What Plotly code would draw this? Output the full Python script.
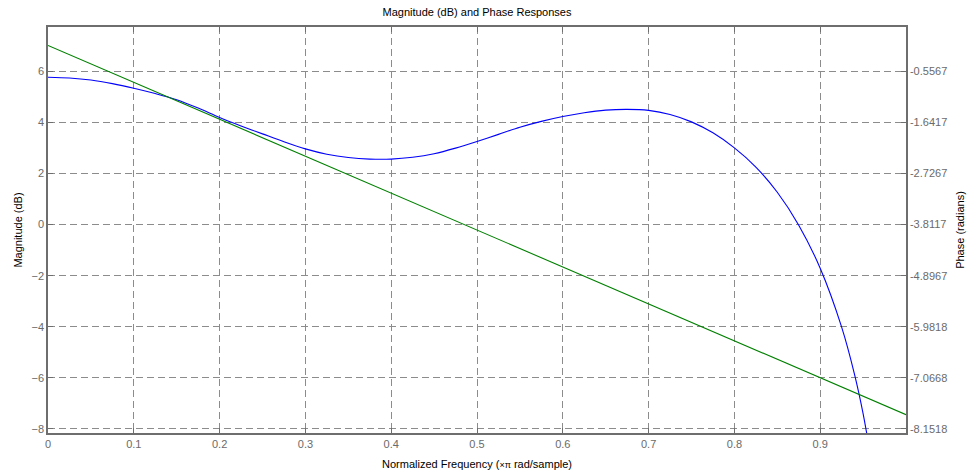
import plotly.graph_objects as go

# ---- data ----
freq_mag = [0.000, 0.025, 0.050, 0.075, 0.100, 0.125, 0.150, 0.175, 0.200, 0.225,
            0.250, 0.275, 0.300, 0.325, 0.350, 0.375, 0.400, 0.425, 0.450, 0.475,
            0.500, 0.525, 0.550, 0.575, 0.600, 0.625, 0.650, 0.675, 0.700, 0.725,
            0.750, 0.775, 0.800, 0.825, 0.850, 0.875, 0.900, 0.925, 0.940, 0.950, 0.960]
magnitude_db = [5.78, 5.75, 5.67, 5.53, 5.35, 5.14, 4.90, 4.57, 4.20, 3.87,
                3.56, 3.25, 2.97, 2.76, 2.63, 2.57, 2.57, 2.64, 2.78, 3.00,
                3.26, 3.54, 3.82, 4.05, 4.24, 4.39, 4.49, 4.52, 4.48, 4.32,
                4.03, 3.60, 3.01, 2.26, 1.27, -0.02, -1.71, -4.02, -5.87, -7.41, -9.31]
freq_phase = [0.0, 1.0]
phase_rad = [0.0, -7.854]

x_ticks = [0, 0.1, 0.2, 0.3, 0.4, 0.5, 0.6, 0.7, 0.8, 0.9]
x_ticklabels = ["0", "0.1", "0.2", "0.3", "0.4", "0.5", "0.6", "0.7", "0.8", "0.9"]
mag_ticks = [6, 4, 2, 0, -2, -4, -6, -8]
phase_ticks = [-0.5567, -1.6417, -2.7267, -3.8117, -4.8967, -5.9818, -7.0668, -8.1518]
phase_ticklabels = ["-0.5567", "-1.6417", "-2.7267", "-3.8117", "-4.8967", "-5.9818", "-7.0668", "-8.1518"]

# ---- axis ranges ----
mag_range = [-8.17, 7.75]
slope = (phase_ticks[0] - phase_ticks[-1]) / (mag_ticks[0] - mag_ticks[-1])
phase_range = [phase_ticks[-1] + (mag_range[0] - mag_ticks[-1]) * slope,
               phase_ticks[0] + (mag_range[1] - mag_ticks[0]) * slope]

FONT = "Liberation Sans, Arial, sans-serif"
AX = "#6e6e6e"
TICKC = "#6a6a6a"
GRID = "#8c8c8c"

fig = go.Figure()
fig.add_trace(go.Scatter(x=freq_mag, y=magnitude_db, mode="lines",
                         line=dict(color="#0000ff", width=1.1, shape="spline", smoothing=0.8),
                         yaxis="y", showlegend=False, hoverinfo="skip"))
fig.add_trace(go.Scatter(x=freq_phase, y=phase_rad, mode="lines",
                         line=dict(color="#008000", width=1.1),
                         yaxis="y2", showlegend=False, hoverinfo="skip"))

fig.update_layout(
    width=968, height=472,
    margin=dict(l=48, r=62, t=27, b=39),
    paper_bgcolor="white", plot_bgcolor="white",
    font=dict(family=FONT, size=11, color="#000000"),
    title=dict(text="Magnitude (dB) and Phase Responses", x=0.5, xref="paper",
               y=1, yref="container", yanchor="top", pad=dict(t=8),
               font=dict(size=11, color="#000000")),
    xaxis=dict(range=[0, 1], tickvals=x_ticks, ticktext=x_ticklabels, automargin=False,
               showline=True, linecolor=AX, linewidth=1.5, mirror="ticks",
               ticks="inside", ticklen=5, tickcolor=AX, tickwidth=1,
               showgrid=True, gridcolor=GRID, griddash="7px,4px", gridwidth=1,
               zeroline=False, tickfont=dict(size=11, color=TICKC),
               title=dict(text="Normalized Frequency (<span style='font-size:9px'>×π</span> rad/sample)",
                          font=dict(size=11, color="#000000"), standoff=11)),
    yaxis=dict(range=mag_range, tickvals=mag_ticks, automargin=False,
               showline=True, linecolor=AX, linewidth=1.5, mirror=False,
               ticks="inside", ticklen=5, tickcolor=AX, tickwidth=1,
               showgrid=True, gridcolor=GRID, griddash="7px,4px", gridwidth=1,
               zeroline=False, tickfont=dict(size=11, color=TICKC),
               title=dict(text="Magnitude (dB)", font=dict(size=11, color="#000000"), standoff=7)),
    yaxis2=dict(range=phase_range, tickvals=phase_ticks, ticktext=phase_ticklabels,
                overlaying="y", side="right", automargin=False,
                showline=True, linecolor=AX, linewidth=1.5,
                ticks="inside", ticklen=5, tickcolor=AX, tickwidth=1,
                showgrid=False, zeroline=False, tickfont=dict(size=11, color=TICKC),
                title=dict(text="Phase (radians)", font=dict(size=11, color="#000000"), standoff=10)),
)

fig.write_html("out.html")
